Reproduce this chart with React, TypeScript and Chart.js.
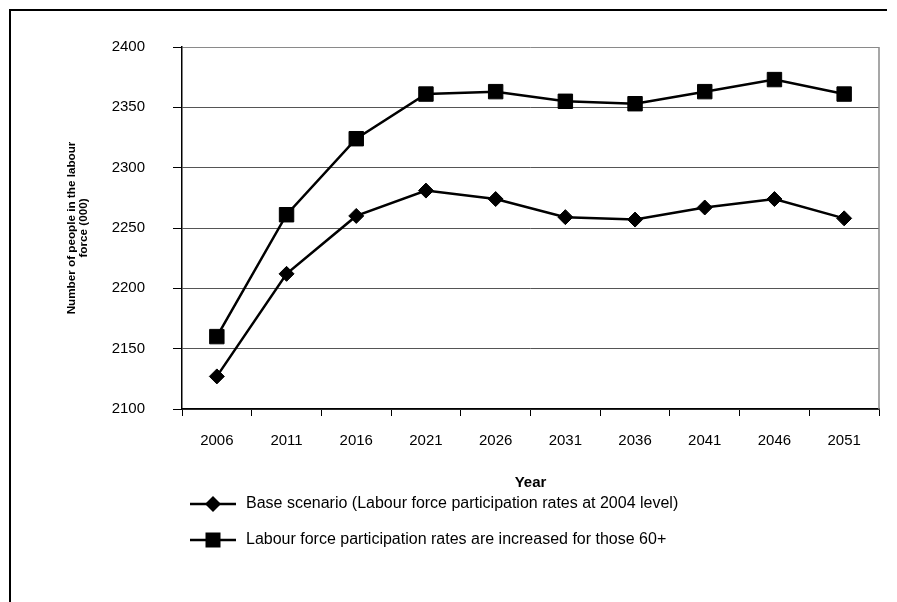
import { useEffect, useRef } from 'react';
import { Chart, registerables } from 'chart.js';

Chart.register(...registerables);

// Projection years on the category axis
const years = ['2006', '2011', '2016', '2021', '2026', '2031', '2036', '2041', '2046', '2051'];

// Labour force, thousands of people
const baseScenario = [2127, 2212, 2260, 2281, 2274, 2259, 2257, 2267, 2274, 2258];
const raisedParticipation60 = [2160, 2261, 2324, 2361, 2363, 2355, 2353, 2363, 2373, 2361];

const seriesLabels = [
  'Base scenario (Labour force participation rates at 2004 level)',
  'Labour force participation rates are increased for those 60+',
];

const yMin = 2100;
const yMax = 2400;
const yStep = 50;

const yTitleLines = ['Number of people in the labour', 'force (000)'];
const xTitle = 'Year';

const FONT = "'Liberation Sans', Arial, Helvetica, sans-serif";

// Thin grey frame on the right edge of the plot area
const plotFrame = {
  id: 'plotFrame',
  beforeDatasetsDraw(chart: any) {
    const { ctx, chartArea } = chart;
    ctx.save();
    ctx.strokeStyle = '#8a8a8a';
    ctx.lineWidth = 1.5;
    ctx.beginPath();
    ctx.moveTo(chartArea.right, chartArea.top);
    ctx.lineTo(chartArea.right, chartArea.bottom);
    ctx.stroke();
    ctx.restore();
  },
};

// Legend stacked in rows under the x-axis title, line sample with marker
const stackedLegend = {
  id: 'stackedLegend',
  afterDraw(chart: any) {
    const { ctx, chartArea } = chart;
    const x0 = chartArea.left + 8;
    const x1 = chartArea.left + 54;
    const xm = (x0 + x1) / 2;
    const rows = [chartArea.bottom + 95, chartArea.bottom + 131];
    ctx.save();
    chart.data.datasets.forEach((ds: any, i: number) => {
      const y = rows[i];
      ctx.strokeStyle = '#000';
      ctx.fillStyle = '#000';
      ctx.lineWidth = 2.5;
      ctx.beginPath();
      ctx.moveTo(x0, y);
      ctx.lineTo(x1, y);
      ctx.stroke();
      ctx.beginPath();
      if (ds.pointStyle === 'rectRot') {
        const r = 8;
        ctx.moveTo(xm - r, y);
        ctx.lineTo(xm, y - r);
        ctx.lineTo(xm + r, y);
        ctx.lineTo(xm, y + r);
      } else {
        const h = 7.5;
        ctx.rect(xm - h, y - h, 2 * h, 2 * h);
      }
      ctx.closePath();
      ctx.fill();
      ctx.font = `16px ${FONT}`;
      ctx.textAlign = 'left';
      ctx.textBaseline = 'middle';
      ctx.fillText(ds.label, x1 + 10, y);
    });
    ctx.restore();
  },
};

export default function App() {
  const canvasRef = useRef<HTMLCanvasElement | null>(null);

  useEffect(() => {
    if (!canvasRef.current) return;
    Chart.defaults.font.family = FONT;
    Chart.defaults.color = '#000';

    const chart = new Chart(canvasRef.current, {
      type: 'line',
      data: {
        labels: years,
        datasets: [
          {
            label: seriesLabels[0],
            data: baseScenario,
            borderColor: '#000',
            backgroundColor: '#000',
            borderWidth: 2.5,
            pointStyle: 'rectRot',
            pointRadius: 7.5,
            pointBorderWidth: 1,
            pointBackgroundColor: '#000',
            pointBorderColor: '#000',
            tension: 0,
          },
          {
            label: seriesLabels[1],
            data: raisedParticipation60,
            borderColor: '#000',
            backgroundColor: '#000',
            borderWidth: 2.5,
            pointStyle: 'rect',
            pointRadius: 10.2,
            pointBorderWidth: 1,
            pointBackgroundColor: '#000',
            pointBorderColor: '#000',
            tension: 0,
          },
        ],
      },
      options: {
        responsive: false,
        animation: false,
        events: [],
        layout: { padding: { left: 0, top: 47, right: 18, bottom: 108 } },
        plugins: {
          legend: { display: false },
          tooltip: { enabled: false },
        },
        scales: {
          x: {
            type: 'category',
            offset: true,
            grid: {
              offset: true,
              drawOnChartArea: false,
              drawTicks: true,
              tickLength: 7,
              tickColor: '#000',
              tickWidth: 1,
            },
            border: { color: '#000', width: 1.5 },
            ticks: { font: { size: 15 }, padding: 16, maxRotation: 0, autoSkip: false },
            title: {
              display: true,
              text: xTitle,
              font: { size: 15, weight: 'bold', lineHeight: 1.2 },
              padding: { top: 0, bottom: 2 },
            },
            afterFit(scale: any) {
              scale.height = 85;
            },
          },
          y: {
            min: yMin,
            max: yMax,
            grid: {
              color: (c: any) => (c.tick && c.tick.value === yMax ? '#8a8a8a' : '#555'),
              lineWidth: 1,
              drawTicks: true,
              tickLength: 9,
              tickColor: '#000',
            },
            border: { color: '#000', width: 1.5 },
            ticks: {
              stepSize: yStep,
              font: { size: 15 },
              padding: 28,
              callback: (v: any) => String(v),
            },
            title: {
              display: true,
              text: yTitleLines,
              font: { size: 11.7, weight: 'bold', lineHeight: 1 },
              padding: { top: 66, bottom: 0 },
            },
            afterFit(scale: any) {
              scale.width = 182;
            },
          },
        },
      },
      plugins: [plotFrame, stackedLegend],
    } as any);

    return () => chart.destroy();
  }, []);

  return (
    <div
      style={{
        position: 'fixed',
        left: 0,
        top: 0,
        width: 897,
        height: 602,
        background: '#fff',
        overflow: 'hidden',
      }}
    >
      <canvas ref={canvasRef} width={897} height={602} style={{ display: 'block' }} />
      <div
        style={{
          position: 'absolute',
          left: 9,
          top: 9,
          width: 878,
          height: 600,
          borderTop: '2px solid #000',
          borderLeft: '2px solid #000',
          boxSizing: 'border-box',
          pointerEvents: 'none',
        }}
      />
    </div>
  );
}
